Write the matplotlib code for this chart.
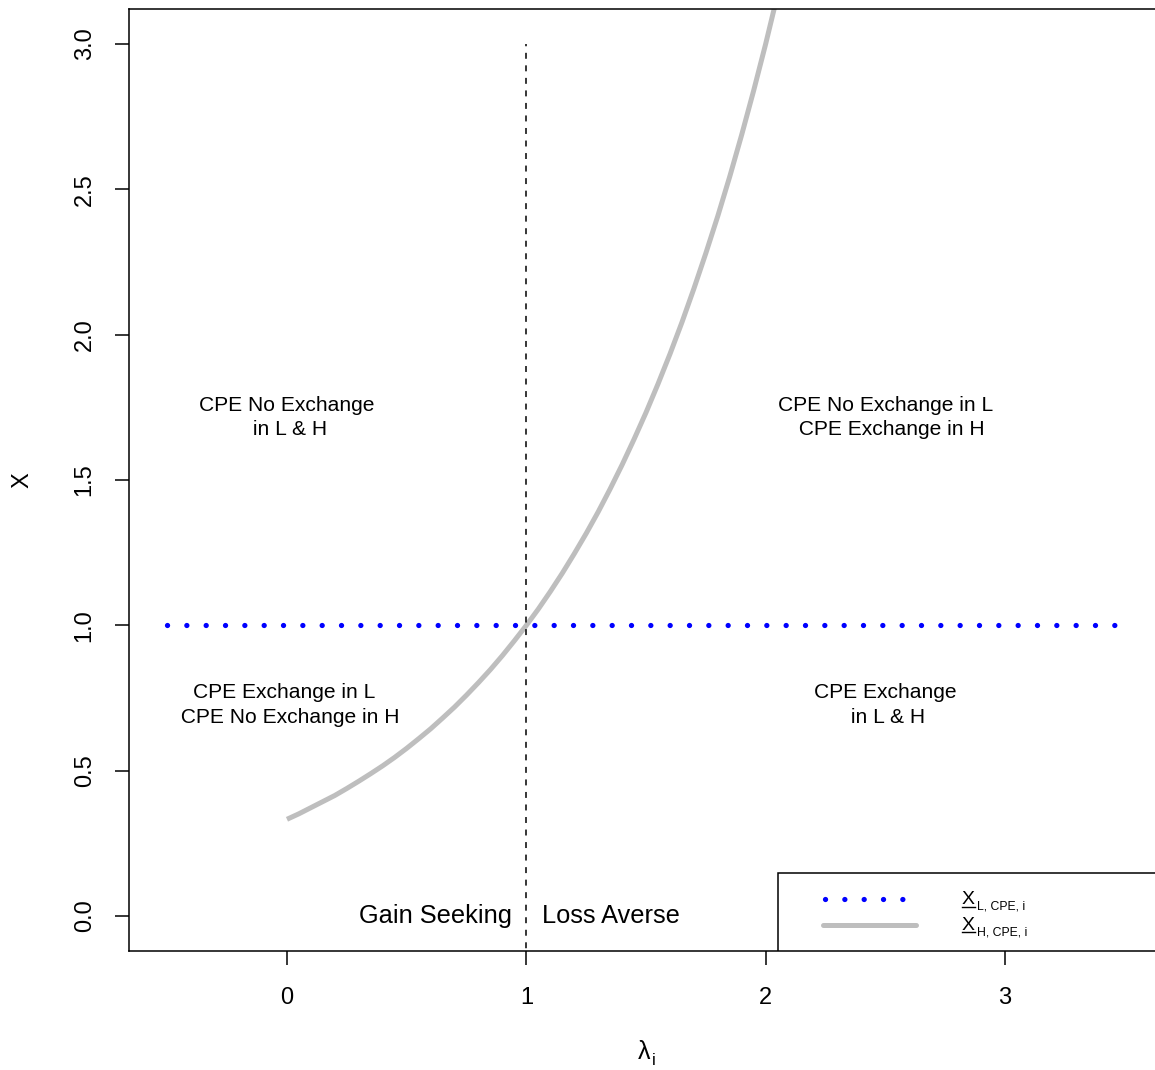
import matplotlib
matplotlib.use('Agg')
import matplotlib.pyplot as plt
from matplotlib.patches import Rectangle
from matplotlib.transforms import offset_copy

plt.rcParams['font.family'] = ['Liberation Sans', 'DejaVu Sans']

# data
lam = [0.00, 0.05, 0.10, 0.15, 0.20, 0.25, 0.30, 0.35, 0.40, 0.45, 0.50,
       0.55, 0.60, 0.65, 0.70, 0.75, 0.80, 0.85, 0.90, 0.95, 1.00,
       1.05, 1.10, 1.15, 1.20, 1.25, 1.30, 1.35, 1.40, 1.45, 1.50,
       1.55, 1.60, 1.65, 1.70, 1.75, 1.80, 1.85, 1.90, 1.95, 2.00,
       2.05, 2.10]
x_high = [0.333, 0.352, 0.373, 0.394, 0.415, 0.439, 0.464, 0.490, 0.517,
          0.546, 0.577, 0.610, 0.644, 0.681, 0.719, 0.760, 0.803, 0.848,
          0.896, 0.947, 1.000, 1.056, 1.116, 1.179, 1.246, 1.316, 1.390,
          1.469, 1.552, 1.640, 1.732, 1.830, 1.933, 2.042, 2.158, 2.280,
          2.408, 2.544, 2.688, 2.840, 3.000, 3.170, 3.349]
low_x = [-0.5, 3.5]
low_y = [1.0, 1.0]
split_x = [1, 1]
split_y = [-0.5, 3.0]

x_ticks = [0, 1, 2, 3]
y_ticks = [0.0, 0.5, 1.0, 1.5, 2.0, 2.5, 3.0]
y_ticklabels = ['0.0', '0.5', '1.0', '1.5', '2.0', '2.5', '3.0']

regions = [
    (0.0, 1.715, 'CPE No Exchange\n in L & H'),
    (2.5, 1.715, 'CPE No Exchange in L\n  CPE Exchange in H'),
    (-0.01, 0.725, 'CPE Exchange in L\n  CPE No Exchange in H'),
    (2.5, 0.725, 'CPE Exchange\n in L & H'),
]

DOTS = (0, (0.01, 3.653))

fig = plt.figure(figsize=(11.55, 10.7), dpi=100)
ax = fig.add_axes([129 / 1155, 119 / 1070, (1163 - 129) / 1155, 942 / 1070])
ax.set_xlim(-0.66, 3.66)
ax.set_ylim(-0.12, 3.12)

ax.plot(low_x, low_y, color='blue', lw=3.8, linestyle=DOTS,
        dash_capstyle='round')
ax.plot(lam, x_high, color='#BEBEBE', lw=3.6, solid_capstyle='butt')
ax.plot(split_x, split_y, color='black', lw=1.1, linestyle=(0, (3.9, 4.3)))

for rx, ry, txt in regions:
    ax.text(rx, ry, txt, ha='center', va='center', fontsize=15.1,
            linespacing=1.38)

ax.text(0.62, 0.0, 'Gain Seeking', ha='center', va='center', fontsize=18.3)
ax.text(1.355, 0.0, 'Loss Averse', ha='center', va='center', fontsize=18.3)

# legend (bottom right, drawn by hand to get the underlined symbol)
ax.add_patch(Rectangle((2.052, -0.2), 2.0, 0.348, fill=False,
                       edgecolor='black', lw=1.1, zorder=3))
ax.plot([2.248, 2.63], [0.058, 0.058], color='blue', lw=3.8,
        linestyle=DOTS, dash_capstyle='round', zorder=4)
ax.plot([2.24, 2.63], [-0.031, -0.031], color='#BEBEBE', lw=3.6,
        solid_capstyle='round', zorder=4)
for ry, sub in [(0.058, 'L, CPE, i'), (-0.031, 'H, CPE, i')]:
    base = ry - 0.017
    ax.text(2.82, base, 'X', ha='left', va='baseline', fontsize=14, zorder=4)
    ax.plot([2.822, 2.876], [base - 0.008, base - 0.008], color='black',
            lw=1.0, zorder=4)
    tr = offset_copy(ax.transData, fig=fig, x=10.8, y=-4, units='points')
    ax.text(2.82, base, sub, ha='left', va='baseline', fontsize=8.8,
            transform=tr, zorder=4)

ax.set_xticks(x_ticks)
ax.set_xticklabels([str(t) for t in x_ticks])
ax.set_yticks(y_ticks)
ax.set_yticklabels(y_ticklabels, rotation=90, va='center')
ax.tick_params(axis='both', direction='out', length=10, width=1.1,
               labelsize=17)
ax.tick_params(axis='x', pad=16)
ax.tick_params(axis='y', pad=14)
for sp in ax.spines.values():
    sp.set_linewidth(1.1)

# x label: upright lambda with subscript i
lx, ly = 638 / 1155, 1 - 1059 / 1070
fig.text(lx, ly, 'λ', ha='left', va='baseline', fontsize=18)
fig.text(lx, ly, 'i', ha='left', va='baseline', fontsize=12,
         transform=offset_copy(fig.transFigure, fig=fig, x=10, y=-4,
                               units='points'))
fig.text(22 / 1155, 1 - 480 / 1070, 'X', ha='center', va='center',
         fontsize=17, rotation=90)

fig.savefig('out.png', dpi=100)
